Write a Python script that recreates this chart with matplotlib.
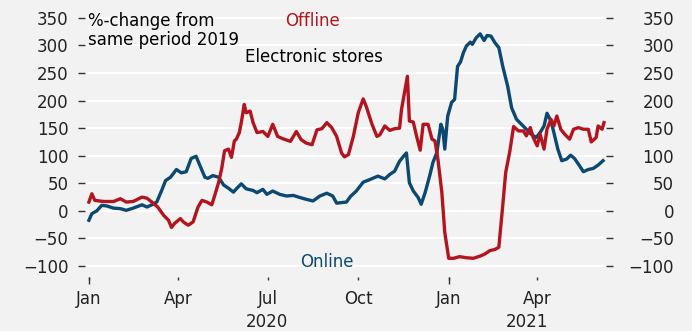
import pandas as pd
import numpy as np
import matplotlib
matplotlib.use('Agg')
import matplotlib.pyplot as plt
import matplotlib.dates as mdates
import matplotlib.transforms as mtransforms

# %-change vs same period 2019, electronic stores (days counted from 1 Jan 2020)
offline_days = [0, 3, 6, 15, 25, 32, 38, 45, 54, 59, 64, 70, 76, 81, 84, 87, 93, 96, 101, 106,
                111, 115, 120, 125, 128, 132, 135, 138, 142, 145, 148, 150, 153, 155, 158, 160,
                164, 167, 171, 177, 182, 187, 192, 197, 205, 211, 216, 221, 227, 232, 237, 242,
                247, 252, 257, 260, 264, 269, 274, 279, 282, 288, 293, 296, 301, 306, 311, 316,
                318, 321, 324, 326, 330, 333, 337, 340, 345, 349, 352, 355, 359, 362, 366, 371,
                377, 384, 391, 398, 403, 408, 413, 417, 421, 424, 428, 432, 437, 442, 445, 449,
                452, 456, 459, 463, 466, 470, 473, 476, 480, 484, 489, 493, 498, 503, 508, 511,
                516, 518, 522, 524]
offline_vals = [16, 31, 19, 17, 17, 22, 16, 17, 25, 23, 16, 7, -8, -17, -30, -23, -14, -20, -26, -20,
                7, 19, 16, 11, 28, 52, 76, 109, 112, 97, 127, 130, 142, 160, 193, 178,
                181, 160, 142, 144, 135, 157, 135, 131, 126, 144, 129, 123, 120, 147, 149, 160,
                151, 135, 105, 98, 102, 135, 178, 203, 190, 157, 135, 138, 154, 146, 149, 150,
                184, 214, 244, 163, 161, 138, 110, 157, 157, 130, 127, 94, 34, -39, -86, -86,
                -83, -85, -86, -82, -78, -72, -70, -66, 10, 70, 106, 153, 145, 145, 136, 151,
                133, 118, 139, 112, 148, 166, 154, 172, 148, 139, 130, 148, 151, 148, 148, 125,
                133, 154, 148, 160]

online_days = [0, 3, 8, 13, 18, 25, 32, 38, 45, 54, 59, 64, 69, 74, 78, 83, 89, 94, 99, 104,
               109, 113, 118, 121, 126, 132, 137, 142, 147, 150, 155, 160, 167, 171, 177, 181,
               187, 194, 201, 208, 215, 221, 228, 235, 242, 248, 252, 257, 262, 266, 272, 279,
               286, 294, 301, 306, 311, 316, 320, 323, 326, 330, 335, 338, 342, 347, 350, 354,
               358, 360, 362, 365, 369, 372, 375, 378, 381, 384, 388, 390, 394, 398, 402, 405,
               409, 413, 417, 421, 426, 430, 435, 440, 445, 450, 455, 459, 463, 466, 470, 473,
               477, 481, 486, 490, 494, 499, 503, 508, 513, 518, 523]
online_vals = [-17, -5, 0, 10, 9, 5, 4, 1, 5, 11, 7, 11, 16, 37, 55, 61, 75, 69, 71, 95,
               99, 82, 61, 59, 64, 61, 47, 41, 34, 40, 49, 40, 37, 33, 39, 30,
               36, 30, 27, 28, 24, 21, 18, 27, 32, 27, 14, 15, 16, 26, 36, 52,
               57, 63, 58, 66, 72, 90, 99, 105, 51, 36, 24, 12, 33, 66, 88, 106,
               157, 148, 112, 172, 197, 202, 262, 270, 287, 299, 306, 302, 314, 321, 309, 318,
               317, 305, 296, 262, 226, 187, 166, 157, 148, 139, 133, 142, 154, 177, 163, 142,
               112, 91, 94, 101, 95, 82, 71, 75, 77, 83, 91]

yticks = [-100, -50, 0, 50, 100, 150, 200, 250, 300, 350]

start = pd.Timestamp('2020-01-01')
offline = pd.Series(offline_vals, index=start + pd.to_timedelta(offline_days, unit='D'))
online = pd.Series(online_vals, index=start + pd.to_timedelta(online_days, unit='D'))

bg = '#f2f2f2'
red = '#b3141e'
blue = '#0b4872'
plt.rcParams['font.family'] = ['DejaVu Sans']

fig = plt.figure(figsize=(6.92, 3.31), dpi=100, facecolor=bg)
ax = fig.add_axes([0.1228, 0.163, 0.7529, 0.813], facecolor=bg)

ax.set_ylim(-120, 368)
ax.set_xlim(start - pd.Timedelta(days=4), start + pd.Timedelta(days=526))
ax.set_yticks(yticks)
ax.yaxis.grid(True, color='white', linewidth=1.5, zorder=0)
ax.axhline(0, color='#444444', linewidth=1.2, linestyle=(0, (3, 3)), zorder=1)

ax.plot(online.index, online.values, color=blue, linewidth=2.4, zorder=3)
ax.plot(offline.index, offline.values, color=red, linewidth=2.4, zorder=3)

for s in ax.spines.values():
    s.set_visible(False)

# x axis: quarter labels, longer tick at each new year
ax.xaxis.set_major_locator(mdates.MonthLocator(bymonth=[1, 4, 7, 10]))
ax.xaxis.set_major_formatter(mdates.DateFormatter('%b'))
ax.xaxis.set_minor_locator(mdates.YearLocator())
ax.xaxis.remove_overlapping_locs = False
ax.tick_params(axis='x', which='major', length=2, width=1, color='#333333', pad=7,
               labelsize=12, labelcolor='#222222')
ax.tick_params(axis='x', which='minor', length=5, width=1, color='#333333')
ax.tick_params(axis='y', length=5, width=1, color='#333333', pad=7, labelsize=12,
               labelcolor='#222222')

ax2 = ax.twinx()
ax2.set_ylim(ax.get_ylim())
ax2.set_yticks(yticks)
for s in ax2.spines.values():
    s.set_visible(False)
ax2.tick_params(axis='y', length=5, width=1, color='#333333', pad=44, labelsize=12,
                labelcolor='#222222')
for lab in ax2.get_yticklabels():
    lab.set_horizontalalignment('right')

# year labels centred under the part of each year shown
trans = mtransforms.blended_transform_factory(ax.transData, ax.transAxes)
x0, x1 = ax.get_xlim()
jan21 = mdates.date2num(pd.Timestamp('2021-01-01'))
ax.text((x0 + jan21) / 2, -0.167, '2020', transform=trans, ha='center', va='center',
        fontsize=12, color='#222222')
ax.text((jan21 + x1) / 2, -0.167, '2021', transform=trans, ha='center', va='center',
        fontsize=12, color='#222222')

ax.text(start - pd.Timedelta(days=1), 327, '%-change from\nsame period 2019', ha='left',
        va='center', fontsize=12, color='black', linespacing=1.05)
ax.text(start + pd.Timedelta(days=227), 345, 'Offline', ha='center', va='center',
        fontsize=12, color=red)
ax.text(start + pd.Timedelta(days=229), 279, 'Electronic stores', ha='center', va='center',
        fontsize=12, color='black')
ax.text(start + pd.Timedelta(days=242), -93, 'Online', ha='center', va='center',
        fontsize=12, color=blue)

fig.savefig('out.png', dpi=100, facecolor=bg)
